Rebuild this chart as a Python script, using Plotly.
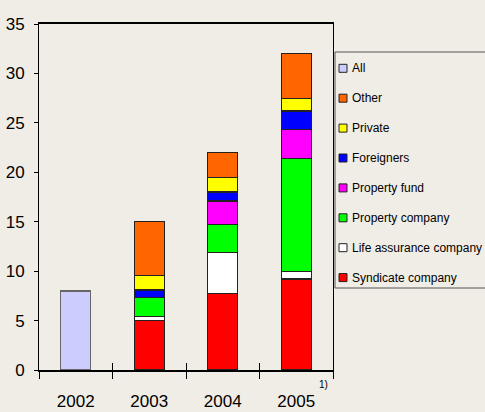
import plotly.graph_objects as go

years = ["2002", "2003", "2004", "2005"]

# stacked segments, bottom to top
syndicate = [0, 5.0, 7.7, 9.2]
life_assurance = [0, 0.45, 4.2, 0.8]
property_company = [0, 1.9, 2.85, 11.4]
property_fund = [0, 0, 2.35, 2.9]
foreigners = [0, 0.75, 0.9, 1.9]
private = [0, 1.5, 1.45, 1.3]
other = [0, 5.4, 2.55, 4.5]
all_total = [8.0, 0, 0, 0]

series = [
    ("Syndicate company", syndicate, "#FF0000", "#222222"),
    ("Life assurance company", life_assurance, "#FFFFFF", "#222222"),
    ("Property company", property_company, "#00FF00", "#222222"),
    ("Property fund", property_fund, "#FF00FF", "#222222"),
    ("Foreigners", foreigners, "#0000FF", "#222222"),
    ("Private", private, "#FFFF00", "#222222"),
    ("Other", other, "#FF6600", "#222222"),
    ("All", all_total, "#CCCCFF", "#666666"),
]

bg = "#F0EDE6"
font_family = "Liberation Sans, Arial, sans-serif"

W, H = 485, 412
L, R, T, B = 39, 152, 24, 42
pw, ph = W - L - R, H - T - B


def px_x(x):
    return (x - L) / pw


def px_y(y):
    return (H - B - y) / ph


fig = go.Figure()
for name, vals, color, edge in series:
    fig.add_trace(
        go.Bar(
            x=years,
            y=[v if v else None for v in vals],
            name=name,
            marker=dict(color=color, line=dict(color=edge, width=1.2)),
            width=0.41,
            showlegend=False,
        )
    )
# invisible trace on the overlay axis so its inside ticks are drawn
fig.add_trace(go.Bar(x=years, y=[None] * 4, xaxis="x2", showlegend=False, hoverinfo="skip"))

# hand-drawn legend box, to match the original layout
fig.add_shape(
    type="rect", xref="paper", yref="paper",
    x0=px_x(335), x1=px_x(495), y0=px_y(288), y1=px_y(52),
    line=dict(color="#555555", width=1), fillcolor=bg, layer="below",
)
for i, (name, vals, color, edge) in enumerate(reversed(series)):
    cy = 68.3 + 29.9 * i
    fig.add_shape(
        type="rect", xref="paper", yref="paper",
        x0=px_x(339), x1=px_x(347), y0=px_y(cy + 4), y1=px_y(cy - 4),
        line=dict(color="#222222", width=1), fillcolor=color,
    )
    fig.add_annotation(
        text=name, xref="paper", yref="paper",
        x=px_x(350), y=px_y(cy), xanchor="left", yanchor="middle",
        showarrow=False, font=dict(size=12, family=font_family),
    )

fig.update_layout(
    barmode="stack",
    width=W,
    height=H,
    margin=dict(l=L, r=R, t=T, b=B),
    paper_bgcolor=bg,
    plot_bgcolor=bg,
    font=dict(family=font_family, color="#000000"),
    showlegend=False,
    xaxis=dict(
        showline=True,
        linecolor="#000000",
        linewidth=2,
        mirror=True,
        ticks="outside",
        tickson="boundaries",
        ticklen=7,
        tickcolor="#000000",
        tickfont=dict(size=17),
        ticklabelstandoff=15,
        showgrid=False,
        automargin=False,
    ),
    xaxis2=dict(
        overlaying="x",
        matches="x",
        side="bottom",
        ticks="inside",
        tickson="boundaries",
        ticklen=7,
        tickcolor="#000000",
        showticklabels=False,
        showline=False,
        showgrid=False,
        automargin=False,
    ),
    yaxis=dict(
        range=[0, 35],
        dtick=5,
        showline=True,
        linecolor="#000000",
        linewidth=1,
        mirror=True,
        ticks="outside",
        ticklen=4,
        tickcolor="#000000",
        tickfont=dict(size=17),
        ticklabelstandoff=6,
        showgrid=False,
        zeroline=False,
        automargin=False,
    ),
)

fig.add_annotation(
    text="1)",
    xref="paper",
    yref="paper",
    x=px_x(323),
    y=px_y(384),
    showarrow=False,
    font=dict(size=10),
    xanchor="center",
    yanchor="middle",
)

fig.write_html(
    "out.html",
    config={"displayModeBar": False},
    post_script="document.body.style.margin='0';document.body.style.background='%s';" % bg,
)
